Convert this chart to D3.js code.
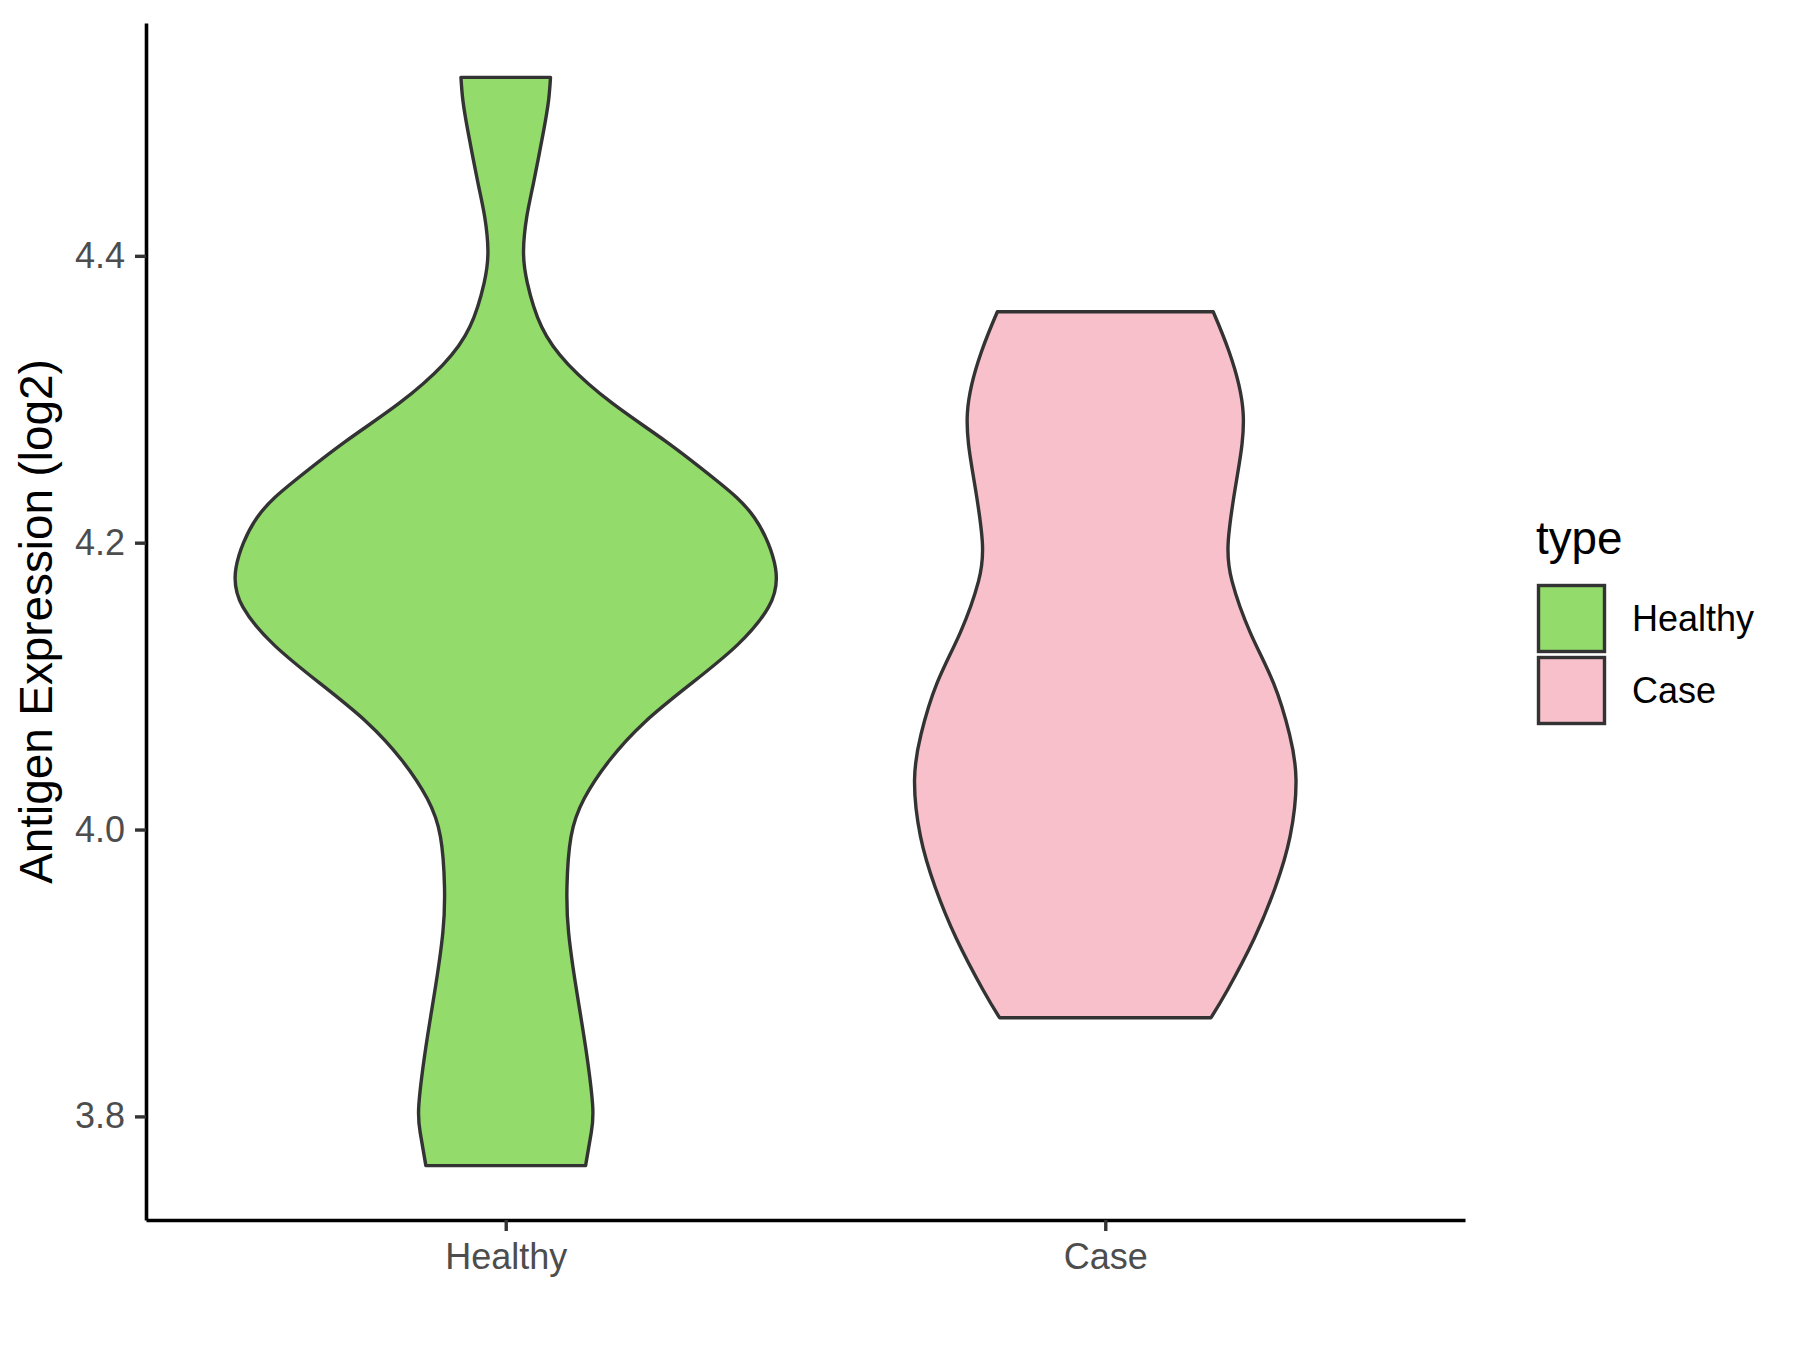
<!DOCTYPE html>
<html>
<head>
<meta charset="utf-8">
<script src="https://cdn.jsdelivr.net/npm/d3@7"></script>
<style>
  body { margin: 0; background: #fff; }
  svg { display: block; font-family: "Liberation Sans", Arial, sans-serif; }
</style>
</head>
<body>
<svg id="chart"></svg>
<script>
// values
const categories = ["Healthy", "Case"];
const fills = ["#93DB6B", "#F7C0CB"];

// violin outline: expression value and relative density (1 = widest)
const healthyValues = [4.5244, 4.5087, 4.4857, 4.4509, 4.4272, 4.4038, 4.3812, 4.3505, 4.324, 4.2971, 4.2703, 4.2439,
  4.2174, 4.1822, 4.1551, 4.1284, 4.1017, 4.0752, 4.0483, 4.0216, 3.995, 3.9603,
  3.9283, 3.8884, 3.8483, 3.8082, 3.7887, 3.7657];
const healthyDensity = [0.166, 0.159, 0.139, 0.103, 0.078, 0.066, 0.080, 0.133, 0.233, 0.396, 0.596, 0.778,
  0.922, 1.0, 0.974, 0.857, 0.687, 0.517, 0.385, 0.291, 0.242, 0.227,
  0.233, 0.262, 0.296, 0.322, 0.317, 0.296];

const caseValues = [4.361, 4.3331, 4.2906, 4.2441, 4.2015, 4.173, 4.1375, 4.1019, 4.0663, 4.0343,
  3.9952, 3.9596, 3.924, 3.8885, 3.8688];
const caseDensity = [0.40, 0.459, 0.511, 0.487, 0.456, 0.470, 0.537, 0.624, 0.683, 0.707,
  0.685, 0.630, 0.552, 0.454, 0.392];

const yTicks = [3.8, 4.0, 4.2, 4.4];
const yTitle = "Antigen Expression (log2)";
const legendTitle = "type";

const width = 1800;
const height = 1350;
const margin = { left: 146, right: 1465, top: 23, bottom: 1220 };

const svg = d3.select('#chart')
    .attr('width', width)
    .attr('height', height);

const groups = [
    { name: categories[0], values: healthyValues, density: healthyDensity, fill: fills[0] },
    { name: categories[1], values: caseValues, density: caseDensity, fill: fills[1] }
];

// ggplot style 5% expansion
const allValues = healthyValues.concat(caseValues);
const [lo, hi] = d3.extent(allValues);
const pad = (hi - lo) * 0.05;

const y = d3.scaleLinear()
    .domain([lo - pad, hi + pad])
    .range([margin.bottom, margin.top]);

const x = d3.scalePoint()
    .domain(categories)
    .range([margin.left, margin.right])
    .padding(0.6);

const halfMax = x.step() * 0.45;

groups.forEach(g => {
    const pts = g.values.map((v, i) => [v, g.density[i]]);
    const cx = x(g.name);
    const area = d3.area()
        .y(d => y(d[0]))
        .x0(d => cx - d[1] * halfMax)
        .x1(d => cx + d[1] * halfMax)
        .curve(d3.curveNatural);
    svg.append('path')
        .attr('d', area(pts))
        .attr('fill', g.fill)
        .attr('stroke', '#333333')
        .attr('stroke-width', 3.4)
        .attr('stroke-linejoin', 'round');
});

// axes
const yAxis = svg.append('g')
    .attr('transform', `translate(${margin.left},0)`)
    .call(d3.axisLeft(y).tickValues(yTicks).tickFormat(d3.format('.1f'))
        .tickSize(11).tickSizeOuter(0).tickPadding(10));

const xAxis = svg.append('g')
    .attr('transform', `translate(0,${margin.bottom})`)
    .call(d3.axisBottom(x).tickSize(11).tickSizeOuter(0).tickPadding(12));

[yAxis, xAxis].forEach(a => {
    a.select('.domain').attr('stroke', '#000').attr('stroke-width', 3.6);
    a.selectAll('.tick line').attr('stroke', '#333333').attr('stroke-width', 3.4);
    a.selectAll('.tick text')
        .attr('fill', '#4D4D4D')
        .style('font-size', '36px')
        .style('font-family', '"Liberation Sans", Arial, sans-serif');
});

svg.append('text')
    .attr('transform', `translate(52,${(margin.top + margin.bottom) / 2}) rotate(-90)`)
    .attr('text-anchor', 'middle')
    .style('font-size', '45.8px')
    .attr('fill', '#000')
    .text(yTitle);

// legend
const legend = svg.append('g').attr('transform', 'translate(1536,0)');
legend.append('text')
    .attr('x', 0)
    .attr('y', 554)
    .style('font-size', '45.8px')
    .attr('fill', '#000')
    .text(legendTitle);

groups.forEach((g, i) => {
    const ky = 582 + i * 72;
    legend.append('rect')
        .attr('x', 2.5)
        .attr('y', ky + 3.5)
        .attr('width', 66)
        .attr('height', 66)
        .attr('fill', g.fill)
        .attr('stroke', '#333333')
        .attr('stroke-width', 3.4);
    legend.append('text')
        .attr('x', 96)
        .attr('y', ky + 36)
        .attr('dy', '0.35em')
        .style('font-size', '36px')
        .attr('fill', '#000')
        .text(g.name);
});
</script>
</body>
</html>
